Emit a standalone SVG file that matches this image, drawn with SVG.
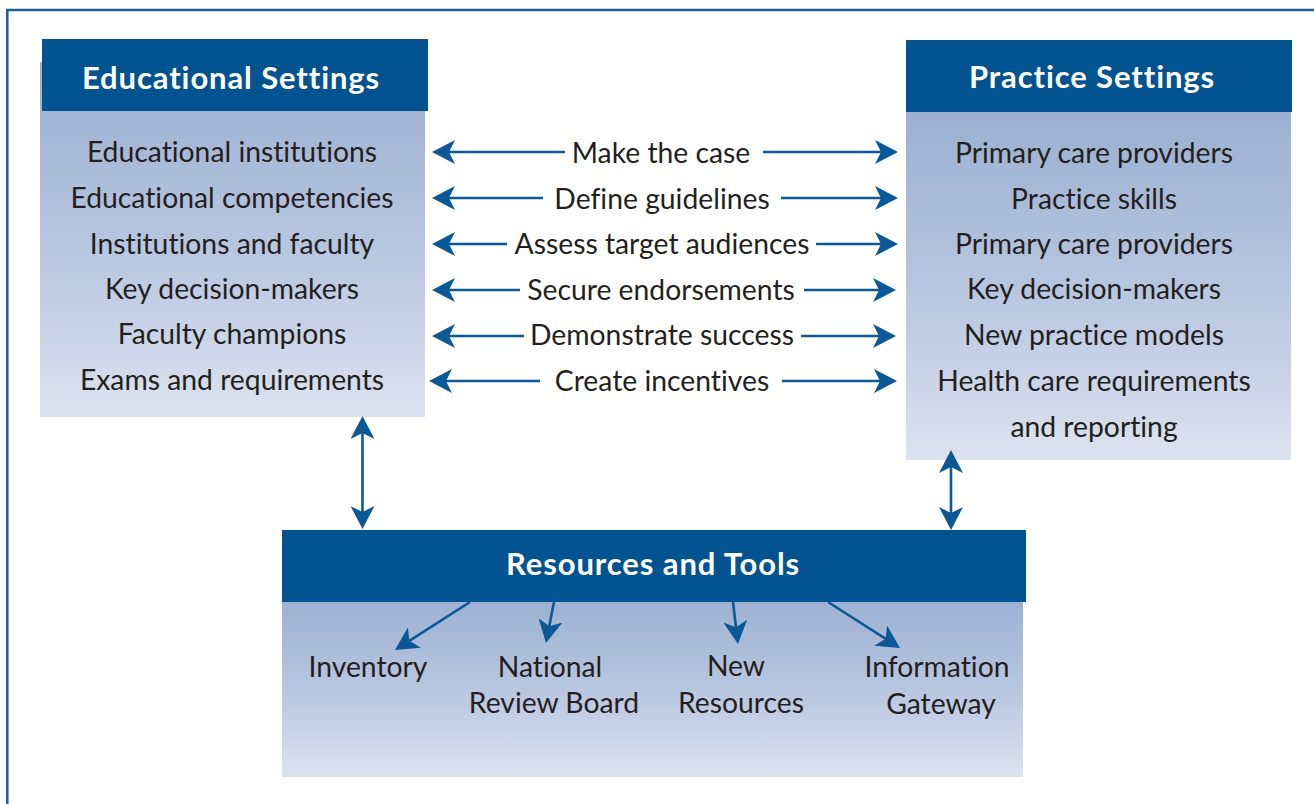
<svg xmlns="http://www.w3.org/2000/svg" width="1314" height="804" viewBox="0 0 1314 804">
<defs>
<linearGradient id="bodyGrad" x1="0" y1="0" x2="0" y2="1">
<stop offset="0" stop-color="#99aed0"/>
<stop offset="0.6" stop-color="#bccae2"/>
<stop offset="1" stop-color="#dde2ef"/>
</linearGradient>
<marker id="ah" viewBox="0 0 23 24" refX="13" refY="12" markerWidth="23" markerHeight="24" markerUnits="userSpaceOnUse" orient="auto-start-reverse">
<path d="M0,0 L23,12 L0,24 L6,12 Z" fill="#0b5897"/>
</marker>
</defs>
<style>
.frame{fill:none;stroke:#1a5f9c;stroke-width:2.5}
.hdr{fill:#02538f}
.body{fill:url(#bodyGrad)}
.ht{font-family:Lato,"Open Sans",sans-serif;font-weight:bold;font-size:31px;letter-spacing:0.9px;fill:#ffffff;text-anchor:middle;font-variant-ligatures:none}
.t{font-family:Lato,"Open Sans",sans-serif;font-size:28.3px;fill:#231f20;text-anchor:middle;font-variant-ligatures:none}
.c{fill:none;stroke:#0b5897;stroke-width:2.6;marker-end:url(#ah)}
.cc{fill:none;stroke:#0b5897;stroke-width:2.6;marker-start:url(#ah);marker-end:url(#ah)}
</style>
<rect width="1314" height="804" fill="#ffffff"/>
<path class="frame" d="M7.3,804 L7.3,10 L1314,10"/>

<g id="educational-settings">
<rect class="body" x="40" y="62" width="385" height="355"/>
<rect class="hdr" x="42" y="39" width="386" height="72"/>
<text class="ht" x="231" y="89">Educational Settings</text>
<text class="t" x="232" y="162">Educational institutions</text>
<text class="t" x="232" y="208">Educational competencies</text>
<text class="t" x="232" y="254">Institutions and faculty</text>
<text class="t" x="232" y="299">Key decision-makers</text>
<text class="t" x="232" y="344">Faculty champions</text>
<text class="t" x="232" y="390">Exams and requirements</text>
</g>

<g id="practice-settings">
<rect class="body" x="906" y="100" width="385" height="360"/>
<rect class="hdr" x="906" y="40" width="386" height="72"/>
<text class="ht" x="1092" y="88">Practice Settings</text>
<text class="t" x="1094" y="163">Primary care providers</text>
<text class="t" x="1094" y="209">Practice skills</text>
<text class="t" x="1094" y="254">Primary care providers</text>
<text class="t" x="1094" y="299">Key decision-makers</text>
<text class="t" x="1094" y="345">New practice models</text>
<text class="t" x="1094" y="391">Health care requirements</text>
<text class="t" x="1094" y="437">and reporting</text>
</g>

<g id="resources-and-tools">
<rect class="body" x="282" y="590" width="741" height="187"/>
<rect class="hdr" x="282" y="530" width="744" height="72"/>
<text class="ht" x="653" y="575">Resources and Tools</text>
<text class="t" x="368" y="677">Inventory</text>
<text class="t" x="550" y="677">National</text>
<text class="t" x="554" y="713">Review Board</text>
<text class="t" x="736" y="676">New</text>
<text class="t" x="741" y="713">Resources</text>
<text class="t" x="937" y="677">Information</text>
<text class="t" x="941" y="714">Gateway</text>
</g>

<g id="middle-labels">
<text class="t" x="661" y="163">Make the case</text>
<text class="t" x="662" y="209">Define guidelines</text>
<text class="t" x="662" y="254">Assess target audiences</text>
<text class="t" x="661" y="300">Secure endorsements</text>
<text class="t" x="662" y="345">Demonstrate success</text>
<text class="t" x="662" y="391">Create incentives</text>
</g>

<g id="connectors">
<path class="c" d="M565,152 L442,152"/>
<path class="c" d="M763,152 L888,152"/>
<path class="c" d="M543,198 L442,198"/>
<path class="c" d="M781,198 L888,198"/>
<path class="c" d="M507,244 L442,244"/>
<path class="c" d="M816,244 L888,244"/>
<path class="c" d="M520,290 L442,290"/>
<path class="c" d="M804,290 L886,290"/>
<path class="c" d="M524,336 L442,336"/>
<path class="c" d="M801,336 L886,336"/>
<path class="c" d="M540,381 L439,381"/>
<path class="c" d="M782,381 L887,381"/>
<path class="cc" d="M362.5,426 L362.5,519"/>
<path class="cc" d="M951,460 L951,520"/>
<path class="c" d="M470,602 L403.4,644.6"/>
<path class="c" d="M554,602 L547.9,633.2"/>
<path class="c" d="M733,602 L736.8,634.1"/>
<path class="c" d="M828,602 L891.6,642.6"/>
</g>
</svg>
